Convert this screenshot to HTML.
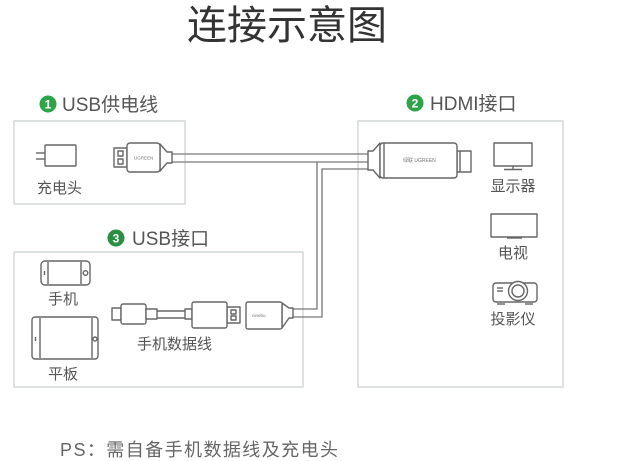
<!DOCTYPE html>
<html>
<head>
<meta charset="utf-8">
<style>
html,body{margin:0;padding:0;background:#fff;}
svg{display:block;}
text{font-family:"Liberation Sans","Noto Sans CJK SC",sans-serif;}
</style>
</head>
<body>
<svg width="617" height="461" viewBox="0 0 617 461" xmlns="http://www.w3.org/2000/svg">
<rect width="617" height="461" fill="#fff"/>
<!-- Title -->
<text x="187" y="39" font-size="40" fill="#333" font-family="Noto Sans CJK SC, sans-serif">连接示意图</text>

<!-- Boxes -->
<g fill="none" stroke="#d4d8d4" stroke-width="1.5">
<rect x="14" y="121" width="171" height="83"/>
<rect x="358" y="121" width="205" height="266"/>
<rect x="14" y="252" width="289" height="135"/>
</g>

<!-- Section labels -->
<circle cx="48" cy="104" r="8.5" fill="#2fa24a"/>
<text x="48" y="108.5" font-size="12" fill="#fff" text-anchor="middle" font-weight="bold">1</text>
<text x="62" y="111" font-size="19" fill="#555">USB供电线</text>

<circle cx="415" cy="103" r="8.5" fill="#2fa24a"/>
<text x="415" y="107.5" font-size="12" fill="#fff" text-anchor="middle" font-weight="bold">2</text>
<text x="430" y="110" font-size="19" fill="#555">HDMI接口</text>

<circle cx="116" cy="238" r="8.5" fill="#2a8f42"/>
<text x="116" y="242.5" font-size="12" fill="#fff" text-anchor="middle" font-weight="bold">3</text>
<text x="132" y="245" font-size="19" fill="#555">USB接口</text>

<!-- Cables -->
<g fill="none" stroke="#777" stroke-width="1.3">
<line x1="172" y1="154" x2="368" y2="154"/>
<line x1="172" y1="162" x2="368" y2="162"/>
<polyline points="368,169 322,169 322,317 293,317"/>
<polyline points="317,162 317,309 293,309"/>
</g>

<g fill="#fff" stroke="#666" stroke-width="1.4" stroke-linejoin="round">
<!-- Charger -->
<rect x="45" y="145" width="31" height="21" rx="1"/>
<line x1="36" y1="153" x2="45" y2="153"/>
<line x1="36" y1="159" x2="45" y2="159"/>

<!-- USB plug box1 -->
<rect x="114" y="148" width="13" height="19"/>
<rect x="118" y="151" width="5" height="5"/>
<rect x="118" y="159" width="5" height="5"/>
<path d="M160,144 L167,152 L172,152 L172,163 L167,163 L160,171 Z"/>
<rect x="127" y="143" width="33" height="29" rx="3"/>

<!-- HDMI connector -->
<path d="M368,151 L373,151 L380,143 L380,178 L373,170 L368,170 Z"/>
<rect x="457" y="151" width="14" height="21"/>
<line x1="460" y1="151" x2="460" y2="172"/>
<rect x="380" y="143" width="77" height="35" rx="3"/>
<line x1="384" y1="143" x2="384" y2="178"/>

<!-- Monitor -->
<rect x="494" y="143" width="38" height="23"/>
<line x1="513" y1="166" x2="513" y2="169"/>
<line x1="504" y1="169.5" x2="522" y2="169.5"/>

<!-- TV -->
<rect x="491" y="214" width="46" height="23"/>
<line x1="507" y1="238" x2="522" y2="238"/>

<!-- Projector -->
<rect x="493" y="283" width="44" height="19" rx="3"/>
<circle cx="518" cy="291" r="9.5"/>
<circle cx="518" cy="291" r="6"/>
<line x1="497" y1="288" x2="503" y2="288"/>
<line x1="497" y1="291" x2="503" y2="291"/>
<line x1="497" y1="304" x2="505" y2="304"/>
<line x1="525" y1="304" x2="533" y2="304"/>

<!-- Phone -->
<rect x="41" y="261" width="49" height="24" rx="4"/>
<line x1="48" y1="262" x2="48" y2="284"/>
<line x1="81" y1="262" x2="81" y2="284"/>
<circle cx="85.5" cy="273" r="2.3"/>
<line x1="44.5" y1="271" x2="44.5" y2="275"/>

<!-- Tablet -->
<rect x="32" y="317" width="66" height="42" rx="3"/>
<line x1="40" y1="318" x2="40" y2="358"/>
<line x1="92" y1="318" x2="92" y2="358"/>
<circle cx="95" cy="339" r="2"/>
<line x1="35.5" y1="337" x2="35.5" y2="341"/>

<!-- Micro USB cable -->
<rect x="112" y="308" width="9" height="12"/>
<rect x="121" y="304" width="25" height="20" rx="2"/>
<rect x="146" y="309" width="11" height="10"/>
<line x1="157" y1="311" x2="185" y2="311"/>
<line x1="157" y1="318" x2="185" y2="318"/>
<rect x="185" y="309" width="7" height="10"/>
<rect x="227" y="307" width="13" height="16"/>
<rect x="231" y="310" width="5" height="4"/>
<rect x="231" y="316" width="5" height="4"/>
<rect x="192" y="302" width="35" height="26" rx="2"/>

<!-- USB female connector -->
<path d="M282,303 L289,308 L293,308 L293,318 L289,318 L282,328 Z"/>
<rect x="246" y="302" width="36" height="27" rx="2"/>
</g>

<!-- tiny brand texts -->
<text x="134" y="159.5" font-size="4.5" fill="#777">UGREEN</text>
<text x="403" y="162" font-size="5" fill="#777">绿联 UGREEN</text>
<text x="252" y="317" font-size="4.5" fill="#777">ninebu</text>

<!-- Small labels -->
<g font-size="15" fill="#555" font-family="Noto Sans CJK SC, sans-serif">
<text x="37" y="193">充电头</text>
<text x="513" y="191" text-anchor="middle">显示器</text>
<text x="513" y="258" text-anchor="middle">电视</text>
<text x="513" y="324" text-anchor="middle">投影仪</text>
<text x="63" y="304" text-anchor="middle">手机</text>
<text x="63" y="379" text-anchor="middle">平板</text>
<text x="137" y="349">手机数据线</text>
</g>

<!-- PS -->
<text x="60" y="456" font-size="18" fill="#666" textLength="278" lengthAdjust="spacing">PS：需自备手机数据线及充电头</text>
</svg>
</body>
</html>
